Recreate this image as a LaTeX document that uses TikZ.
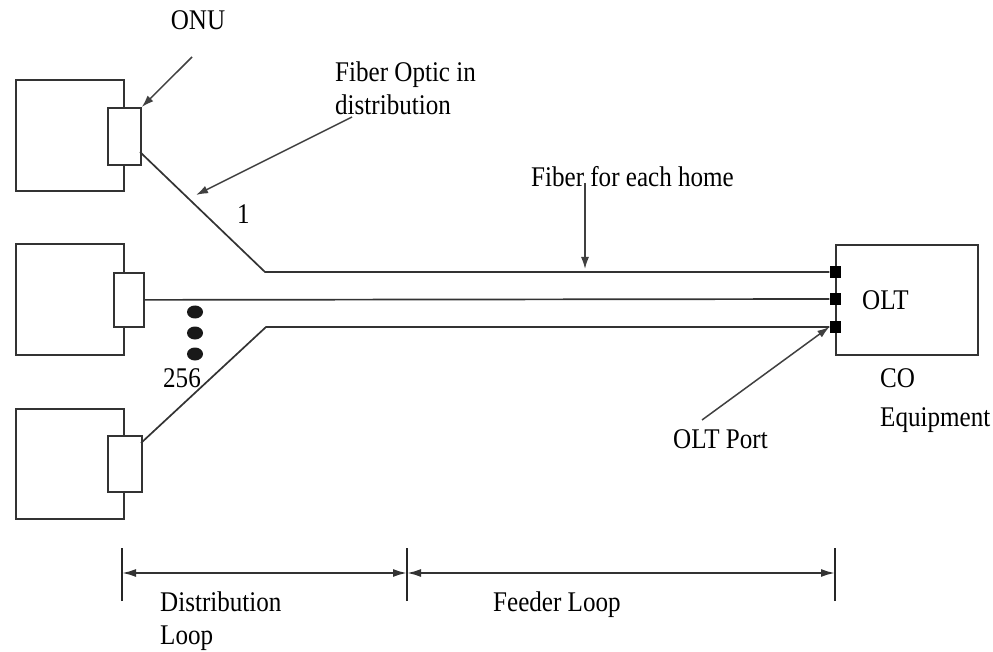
\documentclass[tikz,border=0pt]{standalone}
\usepackage{fontspec}
\setmainfont[FakeStretch=0.88]{Liberation Serif}
\usetikzlibrary{arrows.meta,shapes.geometric}
\begin{document}
\begin{tikzpicture}[x=1pt,y=-1pt,
  line/.style={draw=black!80,line width=1.8pt},
  box/.style={line,rectangle,inner sep=0pt,anchor=north west},
  conn/.style={draw=black!80,line width=1.8pt,fill=white,rectangle,inner sep=0pt,anchor=north west},
  port/.style={fill=black,rectangle,inner sep=0pt,minimum width=11pt,minimum height=12pt},
  fib/.style={draw=black!80,line width=1.7pt},
  ptr/.style={draw=black!75,line width=1.5pt,-{Latex[length=12pt,width=8pt]}},
  dim/.style={draw=black!80,line width=2pt,{Latex[length=14pt,width=8pt]}-{Latex[length=14pt,width=8pt]}},
  tick/.style={draw=black!85,line width=1.6pt},
  lbl/.style={font=\fontsize{28.5}{33}\selectfont,inner sep=0pt,anchor=base west},
  dot/.style={fill=black!90,ellipse,inner sep=0pt,minimum width=16pt,minimum height=13pt}
]
\useasboundingbox (0,0) rectangle (993,652);
% ONU boxes
\node[box,minimum width=108pt,minimum height=111pt] (O1) at (15,79) {};
\node[box,minimum width=108pt,minimum height=111pt] (O2) at (15,243) {};
\node[box,minimum width=108pt,minimum height=110pt] (O3) at (15,408) {};
\node[conn,minimum width=33pt,minimum height=57pt] (I1) at (107,107) {};
\node[conn,minimum width=30pt,minimum height=54pt] (I2) at (113,272) {};
\node[conn,minimum width=34pt,minimum height=56pt] (I3) at (107,435) {};
% OLT
\node[box,minimum width=142pt,minimum height=110pt] (OLT) at (835,244) {};
\node[lbl] (oltt) at (862,309) {OLT};
\node[port] (P1) at (835,272) {};
\node[port] (P2) at (835,299) {};
\node[port] (P3) at (835,327) {};
% fibers
\coordinate (s1) at (140,152);
\coordinate (b1) at (265,272);
\coordinate (s3) at (141,443);
\coordinate (b3) at (266,327);
\draw[fib] (s1) -- (b1) -- (P1.west);
\draw[fib] (I2.east) -- (P2.west);
\draw[fib] (s3) -- (b3) -- (P3.west);
% dots
\node[dot] (d1) at (195,312) {};
\node[dot] (d2) at (195,333) {};
\node[dot] (d3) at (195,354) {};
% labels
\node[lbl,anchor=base] (onu) at (198,30) {ONU};
\node[lbl] (one) at (237,224) {1};
\node[lbl] (n256) at (163,387) {256};
\node[lbl,align=left,anchor=north west] (fod) at (335,62) {Fiber Optic in\\distribution};
\node[lbl] (feh) at (531,187) {Fiber for each home};
\node[lbl] (port) at (673,448) {OLT Port};
\node[lbl,align=left,anchor=north west] (coe) at (880,368) {CO\\[6pt]Equipment};
\node[lbl,align=left,anchor=north west] (dl) at (160,592) {Distribution\\Loop};
\node[lbl] (fl) at (493,611) {Feeder Loop};
% pointer arrows
\coordinate (a1) at (192,57);
\coordinate (a2) at (352,117);
\coordinate (a2e) at (196,195);
\coordinate (a3) at (702,420);
\coordinate (a4) at (585,183);
\coordinate (a4e) at (585,269);
\draw[ptr] (a1) -- (I1.north east);
\draw[ptr] (a2) -- (a2e);
\draw[ptr] (a4) -- (a4e);
\draw[ptr] (a3) -- (P3.west);
% dimension lines
\coordinate (t1) at (122,573);
\coordinate (t2) at (407,573);
\coordinate (t3) at (835,573);
\foreach \t in {t1,t2,t3} \draw[tick] ([yshift=-28pt]\t) -- ([yshift=25pt]\t);
\draw[dim] (t1) -- (t2);
\draw[dim] (t2) -- (t3);
\end{tikzpicture}
\end{document}
